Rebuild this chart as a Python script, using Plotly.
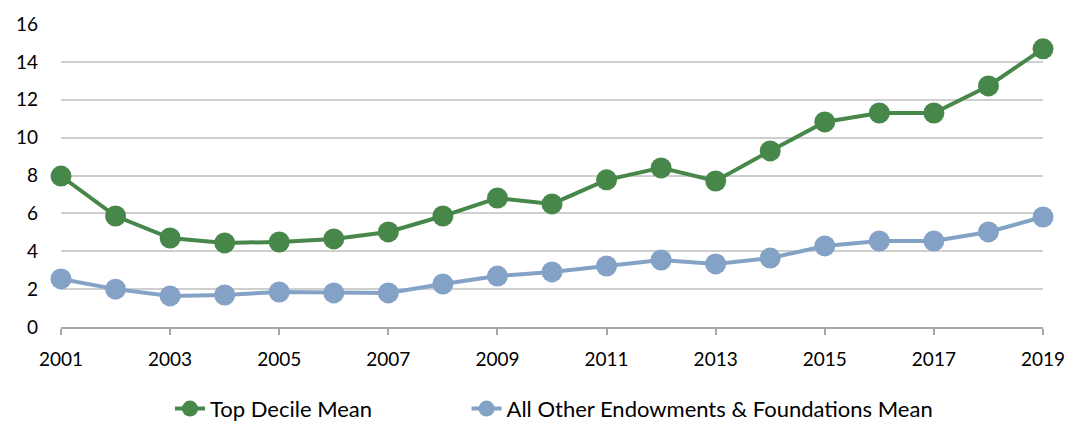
import plotly.graph_objects as go

years = list(range(2001, 2020))
top_decile = [7.97, 5.86, 4.70, 4.44, 4.49, 4.65, 5.02, 5.86, 6.81, 6.50,
              7.77, 8.40, 7.71, 9.30, 10.83, 11.30, 11.30, 12.73, 14.69]
all_other = [2.54, 2.00, 1.64, 1.69, 1.85, 1.80, 1.80, 2.27, 2.69, 2.91,
             3.22, 3.54, 3.33, 3.64, 4.28, 4.54, 4.54, 5.02, 5.81]
x_ticks = list(range(2001, 2020, 2))
y_ticks = list(range(0, 17, 2))

green = "#47874A"
blue = "#84A2C6"
font_family = "Lato, 'Noto Sans', sans-serif"

fig = go.Figure()
fig.add_trace(go.Scatter(
    x=years, y=top_decile, name="Top Decile Mean", mode="lines+markers",
    line=dict(color=green, width=4), marker=dict(color=green, size=21),
    cliponaxis=False, legend="legend",
))
fig.add_trace(go.Scatter(
    x=years, y=all_other, name="All Other Endowments & Foundations Mean",
    mode="lines+markers",
    line=dict(color=blue, width=4), marker=dict(color=blue, size=21),
    cliponaxis=False, legend="legend2",
))

legend_common = dict(orientation="h", yanchor="middle", y=-0.27,
                     font=dict(size=22), bgcolor="rgba(0,0,0,0)")

fig.update_layout(
    width=1068, height=421,
    margin=dict(l=61, r=25, t=24, b=94, autoexpand=False),
    plot_bgcolor="white", paper_bgcolor="white",
    font=dict(family=font_family, size=19, color="#000000"),
    showlegend=True,
    legend=dict(x=0.111, xanchor="left", **legend_common),
    legend2=dict(x=0.413, xanchor="left", **legend_common),
    xaxis=dict(
        range=[2001, 2019], tickvals=x_ticks, ticktext=[str(v) for v in x_ticks],
        showgrid=False, zeroline=False, showline=True, linecolor="#A6A6A6", linewidth=2,
        ticks="outside", ticklen=6, tickwidth=2, tickcolor="#A6A6A6",
        tickfont=dict(size=19), ticklabelstandoff=8,
    ),
    yaxis=dict(
        range=[0, 16], tickvals=y_ticks, showgrid=True, gridcolor="#CFCFCF", gridwidth=1.5,
        zeroline=False, showline=False, ticks="", tickfont=dict(size=19),
        ticklabelstandoff=22,
    ),
)

fig.write_html("out.html")
